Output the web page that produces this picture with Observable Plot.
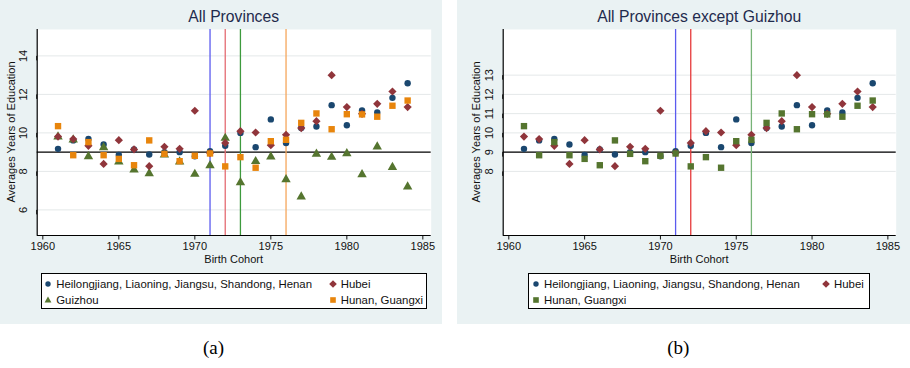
<!DOCTYPE html>
<html>
<head>
<meta charset="utf-8">
<script src="https://cdn.jsdelivr.net/npm/d3@7"></script>
<script src="https://cdn.jsdelivr.net/npm/@observablehq/plot@0.6"></script>
<style>
  body { margin: 0; width: 910px; height: 368px; background: #fff; position: relative; overflow: hidden;
         font-family: "Liberation Sans", Arial, Helvetica, sans-serif; }
  .panel { position: absolute; top: 0; height: 324px; background: #eaf2f3; }
  .abs { position: absolute; white-space: nowrap; }
  .title { font-size: 15.7px; color: #1f2b4d; transform: translate(-50%, -50%); }
  .xlab { font-size: 11px; color: #111; transform: translate(-50%, -50%); }
  .ylab { font-size: 11px; color: #111; transform: translate(-50%, -50%) rotate(-90deg); }
  .legend { background: #fff; border: 1px solid #000; box-sizing: border-box; }
  .item { font-size: 11.4px; color: #111; transform: translateY(-50%); display: flex; align-items: center; }
  .item svg { margin-right: 4px; }
  .cap { font-family: "Liberation Serif", "DejaVu Serif", serif; font-size: 19px; color: #000; transform: translate(-50%, -50%); }
  svg.plot { position: absolute; top: 0; }
</style>
</head>
<body>
<script>
// ---------------- data ----------------
const years = [1961, 1962, 1963, 1964, 1965, 1966, 1967, 1968, 1969, 1970, 1971, 1972,
               1973, 1974, 1975, 1976, 1977, 1978, 1979, 1980, 1981, 1982, 1983, 1984];
const northValues   = [9.17, 9.61, 9.68, 9.40, 8.86, 9.14, 8.88, 9.00, 9.00, 8.79, 9.05, 9.33,
                       10.00, 9.26, 10.70, 9.47, 10.25, 10.33, 11.44, 10.40, 11.16, 11.06, 11.82, 12.58];
const hubeiValues   = [9.81, 9.68, 9.33, 8.39, 9.62, 9.14, 8.27, 9.28, 9.17, 11.15, 8.95, 9.48,
                       10.09, 10.02, 9.36, 9.90, 10.25, 10.61, 13.00, 11.34, 10.99, 11.51, 12.15, 11.34];
const guizhouValues = [9.80, 9.64, 8.77, 9.24, 8.50, 8.08, 7.89, 8.86, 8.50, 7.86, 8.31, 9.73,
                       7.42, 8.52, 8.76, 7.58, 6.68, 8.90, 8.74, 8.93, 7.84, 9.28, 8.22, 7.20];
const hunanValues   = [10.35, 8.84, 9.52, 8.84, 8.65, 8.32, 9.61, 8.91, 8.53, 8.81, 8.93, 8.26,
                       8.74, 8.19, 9.57, 9.64, 10.52, 11.01, 10.19, 10.97, 10.96, 10.84, 11.41, 11.68];

const seriesNames = ["Heilongjiang, Liaoning, Jiangsu, Shandong, Henan", "Hubei", "Guizhou", "Hunan, Guangxi"];
const xTicks = [1960, 1965, 1970, 1975, 1980, 1985];
const yTicksA = [6, 8, 10, 12, 14];
const yTicksB = [8, 9, 10, 11, 12, 13];
const refLevel = [9];
const linesA = [1971, 1972, 1973, 1976];
const linesB = [1971, 1972, 1976];
const xDomain = [1959.63, 1985.55];
const yDomain = [4.67, 15.37];

// ---------------- styles ----------------
const C = { navy: "#1a476f", maroon: "#90353b", green: "#55752f", orange: "#e8850c" };
const lineColA = ["#5b5bef", "#e46c72", "#3d9a3d", "#f5a65c"];
const lineColB = ["#5b5bef", "#e6393a", "#77b377"];

const rows = (vals) => years.map((year, i) => ({ year, value: vals[i] }));

function chart({ width, marginLeft, marginRight, yTicks, lines, lineCols, series }) {
  const marks = [
    Plot.frame({ fill: "white", stroke: null }),
    Plot.gridY(yTicks, { stroke: "#e4e8e9", strokeOpacity: 1, strokeWidth: 1 }),
    Plot.ruleY(refLevel, { stroke: "#000", strokeWidth: 1.4 }),
    ...lines.map((yr, i) => Plot.ruleX([yr], { stroke: lineCols[i], strokeWidth: 1.3 })),
    ...series.map(s => Plot.dot(rows(s.values), { x: "year", y: "value", symbol: s.symbol, r: s.r, fill: s.color, stroke: "none" })),
    Plot.axisY(yTicks, { anchor: "left", rotate: -90, textAnchor: "middle", tickSize: 4.5, tickPadding: 9, label: null, fontSize: 11 }),
    Plot.axisX(xTicks, { anchor: "bottom", tickSize: 4.5, tickPadding: 2.5, tickFormat: d => String(d), label: null, fontSize: 11 }),
    Plot.ruleX([xDomain[0]], { stroke: "#000", strokeWidth: 1.2 }),
    Plot.ruleY([yDomain[0]], { stroke: "#000", strokeWidth: 1.2 })
  ];
  return Plot.plot({
    width, height: 270,
    marginLeft, marginRight, marginTop: 29, marginBottom: 35,
    style: { background: "transparent", fontFamily: '"Liberation Sans", Arial, sans-serif', fontSize: "11px", color: "#111", overflow: "visible" },
    x: { domain: xDomain, label: null },
    y: { domain: yDomain, label: null },
    marks
  });
}

const seriesA = [
  { values: northValues,   symbol: "circle",   r: 3.2, color: C.navy },
  { values: guizhouValues, symbol: "triangle", r: 3.5, color: C.green },
  { values: hubeiValues,   symbol: "diamond2", r: 3.7, color: C.maroon },
  { values: hunanValues,   symbol: "square",   r: 3.6, color: C.orange }
];
const seriesB = [
  { values: northValues, symbol: "circle",   r: 3.2, color: C.navy },
  { values: hubeiValues, symbol: "diamond2", r: 3.7, color: C.maroon },
  { values: hunanValues, symbol: "square",   r: 3.6, color: C.green }
];

function el(tag, cls, style, text) {
  const e = document.createElement(tag);
  if (cls) e.className = cls;
  Object.assign(e.style, style);
  if (text != null) e.textContent = text;
  return e;
}

function sym(shape, color) {
  const s = { circle: "<circle cx='4' cy='4' r='2.7'/>",
              diamond: "<path d='M4,0.2L7.8,4L4,7.8L0.2,4Z'/>",
              triangle: "<path d='M4,0.6L7.4,6.6L0.6,6.6Z'/>",
              square: "<rect x='1.2' y='1.2' width='5.6' height='5.6'/>" }[shape];
  return `<svg width="8" height="8" viewBox="0 0 8 8" style="fill:${color}">${s}</svg>`;
}

function legendItem(parent, x, y, shape, color, text) {
  const it = el("div", "abs item", { left: x + "px", top: y + "px" });
  it.innerHTML = sym(shape, color) + `<span>${text}</span>`;
  parent.appendChild(it);
}

// ---------------- panel (a) ----------------
const pa = el("div", "panel", { left: "0px", width: "442px" });
document.body.appendChild(pa);
const svgA = chart({ width: 442, marginLeft: 36.7, marginRight: 11.3, yTicks: yTicksA, lines: linesA, lineCols: lineColA, series: seriesA });
svgA.classList.add("plot"); svgA.style.left = "0px";
pa.appendChild(svgA);
pa.appendChild(el("div", "abs title", { left: "233.7px", top: "17px" }, "All Provinces"));
pa.appendChild(el("div", "abs ylab", { left: "11px", top: "132px" }, "Averages Years of Education"));
pa.appendChild(el("div", "abs xlab", { left: "233.7px", top: "259px" }, "Birth Cohort"));
const lgA = el("div", "abs legend", { left: "40.7px", top: "272.7px", width: "386px", height: "36.6px" });
pa.appendChild(lgA);
legendItem(lgA, 2.5, 10.6, "circle", C.navy, seriesNames[0]);
legendItem(lgA, 287, 10.6, "diamond", C.maroon, seriesNames[1]);
legendItem(lgA, 2.5, 26.3, "triangle", C.green, seriesNames[2]);
legendItem(lgA, 287, 26.3, "square", C.orange, seriesNames[3]);

// ---------------- panel (b) ----------------
const pb = el("div", "panel", { left: "457px", width: "453px" });
document.body.appendChild(pb);
const svgB = chart({ width: 453, marginLeft: 45.7, marginRight: 14.3, yTicks: yTicksB, lines: linesB, lineCols: lineColB, series: seriesB });
svgB.classList.add("plot"); svgB.style.left = "0px";
pb.appendChild(svgB);
pb.appendChild(el("div", "abs title", { left: "242.2px", top: "17px" }, "All Provinces except Guizhou"));
pb.appendChild(el("div", "abs ylab", { left: "18.7px", top: "132px" }, "Averages Years of Education"));
pb.appendChild(el("div", "abs xlab", { left: "242.2px", top: "259px" }, "Birth Cohort"));
const lgB = el("div", "abs legend", { left: "70.7px", top: "272.7px", width: "342.3px", height: "36.6px" });
pb.appendChild(lgB);
legendItem(lgB, 3.3, 10.6, "circle", C.navy, seriesNames[0]);
legendItem(lgB, 293.3, 10.6, "diamond", C.maroon, seriesNames[1]);
legendItem(lgB, 3.3, 26.3, "square", C.green, seriesNames[3]);

// captions
document.body.appendChild(el("div", "abs cap", { left: "213.5px", top: "348px" }, "(a)"));
document.body.appendChild(el("div", "abs cap", { left: "678.3px", top: "348px" }, "(b)"));
</script>
</body>
</html>
